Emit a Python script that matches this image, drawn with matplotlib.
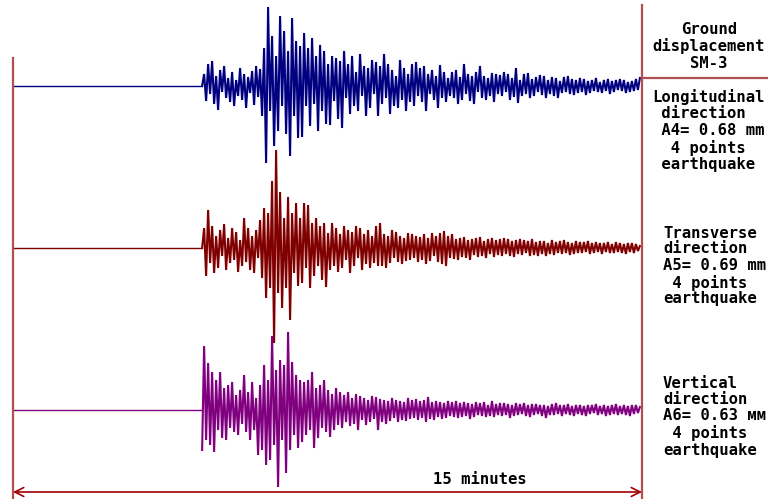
import numpy as np
import matplotlib
matplotlib.use("Agg")
import matplotlib.pyplot as plt

# ---------------- data (deflections, trace units, + = up) ----------------
onset_min = 4.51     # start of shaking (minutes)
end_min = 14.95      # end of record (minutes)
span_min = 15        # length of the time bar

longitudinal = [
    0, 12, -15, 22, -8, 25, -18, 10, -24, 16, -6, 20, -12, 8, -16, 14, -20, 6, -10, 18,
    -14, 12, -22, 9, -7, 15, -19, 20, -11, 17,
    -30, 38, -77, 79, -25, 50, -60, 30, -45, 70, -20, 55, -48, 35, -70, 68, -30, 45, -52, 40,
    -51, 53, -20, 38, -40, 48, -18, 30, -45, 41, -25, 35, -38, 22, -39, 30, -15, 28, -33, 25,
    -42, 35, -12, 22, -28, 30, -20, 14, -25, 32, -10, 20, -30, 18, -22, 26, -8, 24, -30, 20,
    -18, 32, -12, 22, -28, 16, -20, 10, -22, 26, -14, 18, -25, 12, -16, 22, -20, 24, -10, 18,
    -16, 20, -25, 12, -8, 16, -14, 10, -22, 21, -12, 14, -16, 8, -10, 14, -12, 16, -18, 9,
    -14, 22, -8, 12, -15, 10, -18, 14, -6, 20, -12, 10, -14, 8, -10, 13, -16, 12, -8, 11,
    -10, 14, -6, 12, -14, 8, -11, 18, -17, 6, -10, 12, -8, 13, -12, 7, -10, 9, -6, 11,
    -9, 10, -12, 6, -8, 9, -10, 8, -12, 5, -7, 9, -6, 10, -8, 7, -9, 6, -7, 8,
    -6, 7, -9, 5, -7, 6, -5, 8, -6, 4, -7, 6, -5, 7, -8, 5, -6, 6, -4, 7,
    -5, 6, -7, 4, -6, 5, -5, 7, -4, 8]

transverse = [
    0, 20, -28, 38, -15, 22, -25, 12, -20, 18, -8, 24, -22, 10, -15, 20, -12, 16, -24, 8,
    -18, 30, -14, 20, -22, 12, -25, 18, -10, 28,
    -30, 40, -50, 35, -40, 67, -95, 98, -45, 56, -60, 30, -40, 51, -72, 35, -25, 45, -38, 30,
    -35, 45, -20, 43, -40, 25, -28, 30, -18, 22, -32, 25, -39, 15, -22, 25, -18, 20, -24, 14,
    -20, 22, -12, 18, -25, 16, -18, 22, -10, 20, -22, 14, -16, 18, -20, 12, -15, 22, -18, 25,
    -18, 14, -20, 12, -15, 18, -10, 16, -14, 12, -16, 10, -13, 15, -12, 14, -10, 12, -14, 11,
    -12, 14, -16, 10, -13, 15, -8, 12, -14, 15, -16, 17, -18, 12, -10, 14, -11, 9, -12, 10,
    -9, 11, -10, 8, -12, 9, -7, 10, -9, 11, -8, 7, -10, 9, -6, 10, -9, 8, -7, 9,
    -8, 10, -6, 9, -8, 7, -9, 8, -6, 9, -7, 8, -5, 7, -8, 9, -7, 6, -8, 7,
    -6, 7, -8, 5, -6, 8, -7, 6, -5, 7, -6, 8, -5, 6, -7, 5, -6, 7, -5, 6,
    -5, 6, -4, 7, -6, 5, -5, 6, -4, 5, -6, 5, -4, 6, -5, 4, -5, 6, -4, 5,
    -5, 4, -6, 5, -4, 5, -5, 4, -3, 2]

vertical = [
    -40, 64, -30, 47, -35, 38, -42, 30, -20, 38, -28, 22, -30, 25, -18, 28, -22, 15, -25, 20,
    -14, 35, -22, 18, -30, 28, -20, 12, -45, 25,
    -40, 45, -55, 30, -50, 74, -35, 40, -77, 50, -30, 45, -63, 78, -40, 48, -25, 35, -38, 30,
    -32, 28, -25, 30, -20, 38, -38, 22, -28, 25, -18, 30, -22, 20, -27, 16, -20, 22, -15, 18,
    -18, 15, -12, 18, -16, 12, -14, 16, -20, 14, -10, 12, -15, 10, -12, 14, -9, 13, -20, 11,
    -12, 10, -14, 9, -11, 12, -8, 10, -12, 9, -10, 8, -11, 12, -9, 10, -8, 11, -10, 9,
    -8, 10, -12, 13, -9, 8, -10, 9, -7, 8, -9, 7, -8, 9, -6, 8, -7, 9, -8, 7,
    -7, 8, -6, 7, -9, 6, -7, 8, -5, 7, -6, 8, -7, 5, -6, 9, -7, 6, -5, 7,
    -6, 7, -5, 6, -8, 5, -6, 7, -5, 6, -4, 7, -6, 5, -7, 6, -5, 6, -4, 5,
    -6, 5, -8, 4, -5, 6, -5, 7, -4, 5, -6, 5, -4, 6, -5, 4, -6, 5, -4, 5,
    -5, 4, -6, 5, -4, 5, -3, 6, -5, 4, -4, 5, -6, 4, -5, 5, -4, 6, -5, 4,
    -4, 5, -5, 4, -6, 5, -4, 5, -3, 3]

series = [longitudinal, transverse, vertical]
colors = ["#000080", "#800000", "#800080"]
baselines = [86, 248, 410]   # vertical position of each trace (pixel rows)

label_ground = ["Ground", "displacement", "SM-3"]
label_blocks = [
    ["Longitudinal", " direction", " A4= 0.68 mm", "  4 points", " earthquake"],
    ["Transverse", "direction", "A5= 0.69 mm", " 4 points", "earthquake"],
    ["Vertical", "direction", "A6= 0.63 мм", " 4 points", "earthquake"],
]
time_label = "15 minutes"

# ---------------- figure ----------------
W, H = 768, 499
fig = plt.figure(figsize=(W / 100, H / 100), dpi=100)
fig.patch.set_facecolor("white")
x0, x1 = 13, 642
ax = fig.add_axes([x0 / W, 0, (x1 - x0) / W, 1])
ax.set_xlim(0, span_min)
ax.set_ylim(H, 0)
ax.axis("off")

frame_col = "#b05050"
for vals, col, base in zip(series, colors, baselines):
    vals = np.asarray(vals, dtype=float)
    t = np.linspace(onset_min, end_min, len(vals))
    ax.plot([0, onset_min], [base, base], color=col, lw=1.0, clip_on=False)
    ax.plot(t, base - vals, color=col, lw=1.5, solid_joinstyle="miter", clip_on=False)

# frame lines
ax.plot([0, 0], [58, H], color=frame_col, lw=1.6, clip_on=False)
ax.plot([span_min, span_min], [5, H], color=frame_col, lw=1.6, clip_on=False)
px_per_min = (x1 - x0) / span_min
ax.plot([span_min, (W - x0) / px_per_min], [78, 78], color=frame_col, lw=1.6, clip_on=False)

# time bar
ax.annotate("", xy=(0, 492), xytext=(span_min, 492),
            arrowprops=dict(arrowstyle="<->", color="#a00000", lw=1.2,
                            shrinkA=0, shrinkB=0, mutation_scale=16),
            annotation_clip=False)
ax.text(11.14, 479, time_label, ha="center", va="center", fontsize=11.2,
        family="DejaVu Sans Mono", weight="bold", color="black")

# right-hand labels
def ftext(x, y, s, ha="left"):
    fig.text(x / W, 1 - y / H, s, ha=ha, va="center", fontsize=11.2,
             family="DejaVu Sans Mono", weight="bold", color="black")

for s, y in zip(label_ground, [30, 46, 63]):
    ftext(709, y, s, ha="center")

block_x = [652, 663, 663]
block_y = [[97, 114, 131, 148, 165], [233, 249, 266, 283, 299], [383, 400, 416, 433, 450]]
for lines, bx, ys in zip(label_blocks, block_x, block_y):
    for s, y in zip(lines, ys):
        ftext(bx, y, s)

fig.savefig("out.png", dpi=100, facecolor="white")
